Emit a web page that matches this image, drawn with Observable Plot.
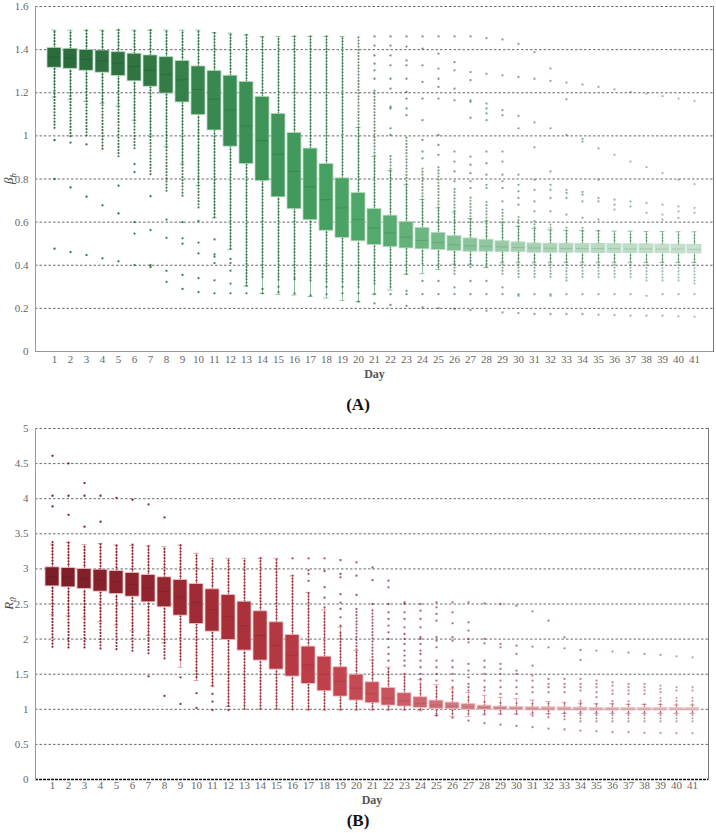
<!DOCTYPE html>
<html><head><meta charset="utf-8">
<script src="https://cdn.jsdelivr.net/npm/d3@7"></script>
<script src="https://cdn.jsdelivr.net/npm/@observablehq/plot@0.6"></script>
<style>
body{margin:0;background:#fff;width:716px;font-family:"Liberation Serif",serif;}
.cap{text-align:center;font-weight:bold;font-size:17px;color:#111;font-family:"Liberation Serif",serif;}
svg{display:block;}
</style></head><body>
<div id="pa"></div><div class="cap" style="height:30px;line-height:30px">(A)</div>
<div id="pb"></div><div class="cap" style="height:26px;line-height:28px">(B)</div>
<script>
const days = [1,2,3,4,5,6,7,8,9,10,11,12,13,14,15,16,17,18,19,20,21,22,23,24,25,26,27,28,29,30,31,32,33,34,35,36,37,38,39,40,41];

// ---------- Panel A: beta_h ----------
const betaTicks = [0,0.2,0.4,0.6,0.8,1,1.2,1.4,1.6];
const betaQ3 = [1.408,1.404,1.399,1.396,1.388,1.381,1.373,1.365,1.347,1.322,1.301,1.279,1.250,1.181,1.102,1.013,0.941,0.869,0.803,0.735,0.661,0.630,0.601,0.573,0.550,0.535,0.524,0.518,0.511,0.506,0.501,0.500,0.500,0.499,0.499,0.498,0.497,0.497,0.496,0.495,0.494];
const betaQ1 = [1.316,1.311,1.302,1.293,1.278,1.253,1.228,1.196,1.155,1.096,1.025,0.950,0.869,0.790,0.715,0.660,0.609,0.560,0.527,0.511,0.494,0.484,0.478,0.474,0.471,0.466,0.463,0.463,0.461,0.461,0.458,0.458,0.458,0.458,0.457,0.457,0.457,0.456,0.456,0.455,0.455];
const betaMed = [1.365,1.360,1.355,1.348,1.337,1.322,1.305,1.285,1.260,1.215,1.170,1.120,1.046,0.978,0.915,0.835,0.764,0.704,0.666,0.612,0.573,0.550,0.530,0.515,0.505,0.495,0.490,0.488,0.485,0.482,0.480,0.479,0.478,0.478,0.477,0.477,0.476,0.476,0.475,0.475,0.474];
const betaWhiskHi = [1.490,1.490,1.490,1.490,1.490,1.490,1.490,1.490,1.490,1.490,1.479,1.476,1.468,1.461,1.461,1.461,1.461,1.461,1.461,1.039,0.904,0.839,0.773,0.705,0.666,0.647,0.617,0.604,0.597,0.580,0.570,0.565,0.562,0.560,0.560,0.558,0.558,0.556,0.556,0.555,0.555];
const betaWhiskLo = [1.180,1.170,1.160,1.150,1.138,1.073,1.000,0.950,0.870,0.770,0.620,0.474,0.303,0.269,0.265,0.262,0.255,0.248,0.237,0.231,0.266,0.285,0.358,0.361,0.380,0.405,0.405,0.389,0.412,0.412,0.412,0.412,0.412,0.412,0.412,0.412,0.412,0.412,0.412,0.412,0.412];
const betaDenseHi = [1.49,1.49,1.49,1.49,1.49,1.49,1.49,1.49,1.49,1.49,1.479,1.476,1.468,1.461,1.461,1.461,1.461,1.461,1.461,1.461,1.21,0.912,1.0,0.85,0.866,0.758,0.712,0.696,0.665,0.635,0.604,0.589,0.574,0.574,0.558,0.543,0.543,0.543,0.543,0.543,0.543];
const betaDenseLo = [1.035,0.996,1.0,0.938,0.903,0.94,0.82,0.743,0.72,0.666,0.62,0.474,0.303,0.343,0.33,0.343,0.327,0.32,0.32,0.297,0.312,0.297,0.358,0.405,0.389,0.358,0.389,0.389,0.358,0.343,0.343,0.343,0.327,0.343,0.343,0.343,0.343,0.327,0.327,0.327,0.312];
const betaOutliers = [
 [0.98,0.80,0.477],[0.969,0.761,0.461],[0.961,0.718,0.447],[0.678,0.432],[0.769,0.640,0.418],
 [0.869,0.832,0.600,0.547,0.401],[0.720,0.563,0.400,0.391],[0.612,0.527,0.374,0.323],[0.600,0.525,0.500,0.355,0.290],[0.605,0.505,0.455,0.340,0.275],
 [0.520,0.450,0.440,0.410,0.330,0.270],[0.430,0.410,0.375,0.315,0.270],[0.270],[0.290,0.270],[0.300,0.275],
 [0.335,0.270],[0.260],[0.300,0.265],[0.300,0.270],[0.270,0.231],
 [1.461,1.419,1.373,1.335,1.304,1.265,0.266,0.223],
 [1.461,1.419,1.373,1.327,1.265,1.219,1.135,1.127,1.035,1.004,0.266,0.216],
 [1.461,1.414,1.350,1.327,1.265,1.204,1.173,1.127,1.096,0.281,0.266,0.212],
 [1.461,1.404,1.327,1.250,1.173,1.073,0.981,0.927,0.896,0.327,0.266,0.204],
 [1.461,1.381,1.312,1.265,1.227,1.173,1.004,0.958,0.912,0.327,0.266,0.201],
 [1.461,1.342,1.304,1.219,1.165,0.927,0.881,0.835,0.789,0.297,0.266,0.197],
 [1.461,1.296,1.258,1.165,1.158,1.084,0.904,0.866,0.827,0.789,0.758,0.327,0.266,0.192],
 [1.453,1.288,1.150,1.127,1.104,1.073,0.927,0.873,0.820,0.773,0.758,0.327,0.266,0.189],
 [1.447,1.281,1.119,1.096,0.927,0.881,0.820,0.789,0.758,0.696,0.297,0.266,0.181],
 [1.427,1.273,1.093,1.035,0.820,0.773,0.743,0.712,0.681,0.266,0.258,0.178],
 [1.388,1.265,1.062,0.947,0.796,0.750,0.696,0.650,0.266,0.174],
 [1.312,1.255,1.035,0.835,0.773,0.750,0.712,0.650,0.266,0.258,0.174],
 [1.247,1.170,1.004,0.750,0.735,0.712,0.635,0.266,0.174],
 [1.238,0.986,0.973,0.740,0.727,0.696,0.620,0.266,0.174],
 [1.227,0.942,0.796,0.712,0.696,0.612,0.266,0.171],
 [1.216,0.912,0.704,0.681,0.658,0.266,0.169],
 [1.204,0.881,0.696,0.673,0.266,0.166],
 [1.196,0.855,0.689,0.643,0.258,0.166],
 [1.184,0.827,0.681,0.635,0.612,0.266,0.166],
 [1.173,0.796,0.673,0.650,0.620,0.266,0.163],
 [1.161,0.776,0.666,0.643,0.266,0.161]
];

// ---------- Panel B: R0 ----------
const r0Ticks = [0,0.5,1,1.5,2,2.5,3,3.5,4,4.5,5];
const r0Q3 = [3.022,3.012,2.998,2.989,2.970,2.941,2.913,2.880,2.842,2.785,2.709,2.628,2.533,2.396,2.239,2.059,1.893,1.750,1.599,1.494,1.385,1.305,1.229,1.172,1.124,1.096,1.077,1.053,1.039,1.034,1.029,1.029,1.027,1.025,1.020,1.020,1.020,1.020,1.020,1.020,1.020];
const r0Q1 = [2.751,2.737,2.713,2.676,2.642,2.604,2.524,2.453,2.334,2.215,2.106,1.988,1.836,1.694,1.565,1.466,1.361,1.257,1.181,1.124,1.086,1.053,1.039,1.020,1.006,1.001,0.991,0.991,0.987,0.987,0.982,0.982,0.982,0.982,0.982,0.982,0.982,0.982,0.982,0.982,0.982];
const r0Med = [2.89,2.88,2.86,2.84,2.81,2.78,2.73,2.68,2.60,2.52,2.42,2.32,2.19,2.05,1.91,1.77,1.63,1.50,1.40,1.30,1.22,1.16,1.12,1.08,1.06,1.045,1.035,1.025,1.015,1.010,1.005,1.0,1.0,1.0,1.0,1.0,1.0,1.0,1.0,1.0,1.0];
const r0WhiskHi = [3.354,3.378,3.345,3.363,3.340,3.335,3.330,3.316,3.340,3.221,3.150,3.150,3.150,3.150,3.150,2.900,2.666,2.415,2.170,1.836,1.700,1.600,1.500,1.420,1.350,1.290,1.240,1.200,1.170,1.150,1.130,1.110,1.100,1.090,1.080,1.080,1.070,1.070,1.070,1.060,1.060];
const r0WhiskLo = [2.35,2.33,2.30,2.25,2.20,2.12,2.05,1.95,1.60,1.41,1.33,1.04,1.0,1.0,1.0,1.0,0.99,0.99,0.99,0.99,0.99,0.99,0.99,0.98,0.911,0.90,0.90,0.92,0.93,0.93,0.93,0.94,0.94,0.94,0.94,0.94,0.94,0.94,0.94,0.94,0.94];
const r0DenseHi = [3.411,3.39,3.35,3.37,3.35,3.34,3.33,3.32,3.34,3.22,3.15,3.15,3.15,3.15,3.15,2.90,2.666,2.38,2.12,2.45,2.405,1.599,1.504,1.361,1.267,1.195,1.172,1.124,1.124,1.10,1.10,1.077,1.10,1.124,1.077,1.124,1.124,1.10,1.172,1.195,1.195];
const r0DenseLo = [1.883,1.874,1.874,1.86,1.85,1.826,1.79,1.717,1.70,1.45,1.328,1.04,1.0,1.0,1.0,0.99,0.99,0.99,0.99,0.99,0.99,0.99,0.99,0.99,0.93,0.93,0.93,0.93,0.93,0.93,0.90,0.88,0.85,0.82,0.82,0.82,0.82,0.82,0.82,0.82,0.82];
const r0Outliers = [
 [4.611,4.042,3.890],[4.502,4.042,3.771],[4.222,4.042,3.601],[4.042,3.672],[4.013],[3.985],[3.918,1.47],[3.733,1.19],[1.456,1.077],[1.229,1.02],
 [1.219,1.11,0.99],[0.99],[],[],[],[3.15],[3.15,2.98,2.93,2.83],[3.15,2.97,2.74,2.59,2.45],[3.126,2.927,2.88,2.64,2.52,2.43,2.31,2.19],[3.093,2.903,2.628],
 [3.02,2.84,2.50],
 [2.832,2.737,2.50,2.381,2.287,2.192,2.097,2.002,1.883,1.788,1.693],
 [2.524,2.50,2.381,2.287,2.168,2.073,2.002,1.931,1.836,1.765,1.693,1.622],
 [2.50,2.405,2.287,2.168,2.026,2.002,1.931,1.836,1.788,1.693,1.599,1.504,1.433],
 [2.524,2.453,2.358,2.263,2.026,1.978,1.883,1.693,1.599,1.504,1.409,1.314,0.911],
 [2.524,2.381,2.225,2.026,1.978,1.693,1.599,1.504,1.409,1.314,1.243,0.878],
 [2.524,2.239,2.121,2.002,1.954,1.646,1.551,1.456,1.361,1.314,1.267,0.840],
 [2.509,2.002,1.940,1.693,1.599,1.504,1.409,1.314,1.267,0.802],
 [2.50,1.931,1.883,1.646,1.575,1.504,1.409,1.314,1.219,0.783],
 [2.476,1.907,1.788,1.551,1.504,1.409,1.314,1.219,0.764],
 [2.396,1.893,1.622,1.480,1.409,1.314,1.243,0.745],
 [2.263,1.883,1.433,1.361,1.314,1.243,0.726],
 [2.026,1.869,1.433,1.361,1.314,1.243,0.712],
 [1.845,1.703,1.433,1.361,1.314,1.267,0.697],
 [1.836,1.409,1.361,1.314,1.243,1.172,0.688],
 [1.822,1.385,1.338,1.267,1.219,0.674],
 [1.807,1.361,1.314,1.267,1.219,0.674],
 [1.788,1.361,1.314,1.267,1.219,0.664],
 [1.774,1.338,1.290,1.243,0.664],
 [1.755,1.314,1.267,0.659],
 [1.741,1.314,1.267,0.659]
];

const colorDays = [1,6,12,18,22,26,30,35,41];

function panel(o) {
  const rows = days.map((d, i) => ({day: d, q1: o.q1[i], q3: o.q3[i], med: o.med[i], lo: o.wLo[i], hi: o.wHi[i], dHi: o.dHi[i], dLo: o.dLo[i]}));
  const pts = o.out.flatMap((vals, i) => vals.map(v => ({day: days[i], v})));
  const gridTicks = o.ticks.filter(t => t > 0);
  const chart = Plot.plot({
    width: 716, height: o.height,
    marginLeft: 35, marginRight: o.marginRight, marginTop: o.marginTop, marginBottom: o.marginBottom,
    style: {fontFamily: "'Liberation Serif', serif", fontSize: "11px", color: "#666", background: "#fff", overflow: "visible"},
    x: {type: "band", domain: days, paddingInner: 0.13, paddingOuter: 0.05, tickSize: 0, tickPadding: o.xPad, label: null},
    y: {domain: o.domain, ticks: o.ticks, tickSize: 0, tickPadding: 7, tickFormat: d => String(d), label: null},
    color: {type: "linear", domain: colorDays, range: o.boxColors, interpolate: "rgb"},
    opacity: {type: "linear", domain: [1, 41], range: [1, 0.42]},
    marks: [
      Plot.ruleY(gridTicks, {stroke: "#444", strokeWidth: 0.8, strokeDasharray: "2.5,2"}),
      Plot.ruleX(rows, {x: "day", y1: "lo", y2: "hi", stroke: o.whisker, strokeWidth: 1}),
      Plot.tickY(rows, {x: "day", y: "hi", stroke: o.whisker, insetLeft: 4.5, insetRight: 4.5}),
      Plot.tickY(rows, {x: "day", y: "lo", stroke: o.whisker, insetLeft: 4.5, insetRight: 4.5}),
      Plot.ruleX(rows, {x: "day", y1: "q3", y2: "dHi", stroke: o.dot, strokeOpacity: "day", strokeWidth: 2.1, strokeDasharray: "0.1,3", strokeLinecap: "round"}),
      Plot.ruleX(rows, {x: "day", y1: "dLo", y2: "q1", stroke: o.dot, strokeOpacity: "day", strokeWidth: 2.1, strokeDasharray: "0.1,3", strokeLinecap: "round"}),
      Plot.dot(pts, {x: "day", y: "v", r: 1.15, fill: o.dot, fillOpacity: "day", stroke: null}),
      Plot.barY(rows, {x: "day", y1: "q1", y2: "q3", fill: "day", stroke: o.boxStroke, strokeWidth: 0.8}),
      Plot.tickY(rows, {x: "day", y: "med", stroke: "#000", strokeOpacity: 0.12, insetLeft: 1, insetRight: 1}),
      Plot.ruleY([0], {stroke: o.zeroStroke, strokeWidth: o.zeroWidth, strokeDasharray: o.zeroDash}),
      Plot.frame({anchor: "left", stroke: "#999"}),
      Plot.frame({anchor: "right", stroke: "#777"}),
      Plot.text(["Day"], {frameAnchor: "bottom", dy: o.dayDy, fontWeight: "bold", fontSize: 12, fill: "#555"})
    ]
  });
  // rotated y-axis label with italic subscript
  const sel = d3.select(chart);
  const cy = (o.marginTop + (o.height - o.marginBottom)) / 2;
  const t = sel.append("text")
    .attr("transform", `translate(13,${cy}) rotate(-90)`)
    .attr("text-anchor", "middle")
    .attr("font-family", "'Liberation Serif', serif")
    .attr("font-style", "italic")
    .attr("font-size", 13)
    .attr("fill", "#444");
  t.append("tspan").text(o.label);
  t.append("tspan").attr("font-size", 9).attr("dy", 3).text(o.sub);
  return chart;
}

document.getElementById("pa").append(panel({
  q1: betaQ1, q3: betaQ3, med: betaMed, wLo: betaWhiskLo, wHi: betaWhiskHi, dHi: betaDenseHi, dLo: betaDenseLo, out: betaOutliers,
  ticks: betaTicks, domain: [0, 1.6], height: 390, marginTop: 6, marginBottom: 39, marginRight: 3, dayDy: 26, xPad: 4,
  boxColors: ["#2b6a3b","#307442","#3b8c52","#45a061","#59ac71","#7fbf92","#a2cfae","#b9dbc3","#c9e1d0"],
  dot: "#2b6a3b", whisker: "#8fbf9c", boxStroke: "#b6dac0",
  zeroStroke: "#999", zeroWidth: 1, zeroDash: null, label: "β", sub: "h"
}));

document.getElementById("pb").append(panel({
  q1: r0Q1, q3: r0Q3, med: r0Med, wLo: r0WhiskLo, wHi: r0WhiskHi, dHi: r0DenseHi, dLo: r0DenseLo, out: r0Outliers,
  ticks: r0Ticks, domain: [0, 5], height: 387, marginTop: 8, marginBottom: 28, marginRight: 8, dayDy: 24, xPad: 2,
  boxColors: ["#7a1e27","#8c232d","#a72f37","#c0404a","#c8545d","#d27880","#d9979c","#ddb0b4","#e2c3c6"],
  dot: "#7b1c27", whisker: "#dca0a6", boxStroke: "#efc4c8",
  zeroStroke: "#111", zeroWidth: 1.6, zeroDash: "3,1", label: "R", sub: "0"
}));
</script>
</body></html>
